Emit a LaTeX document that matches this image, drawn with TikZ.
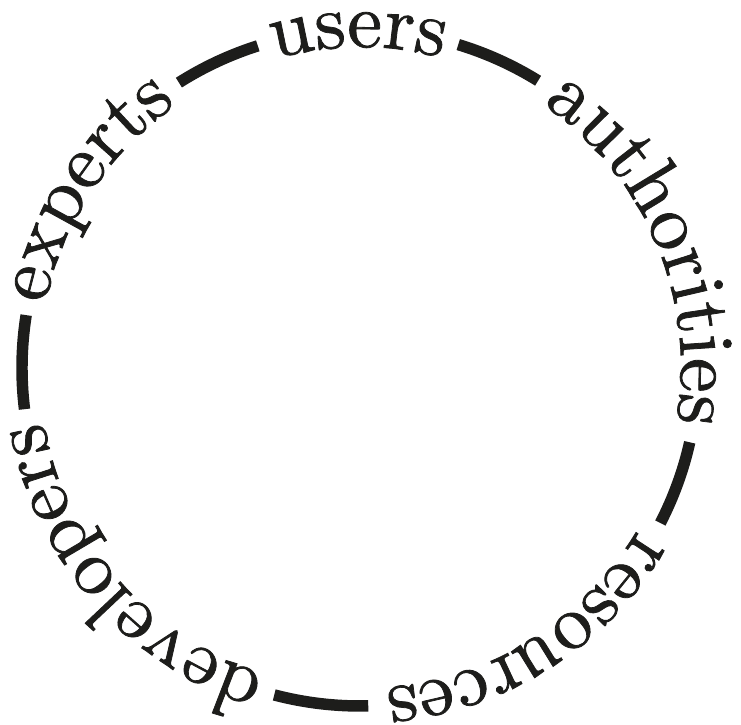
\documentclass[tikz,border=0pt]{standalone}
\usepackage{fontspec}
\newfontfamily\wordfont[FakeBold=1]{lmroman10-regular.otf}
\usetikzlibrary{decorations.text}
\definecolor{ink}{RGB}{29,29,27}
\begin{document}
\begin{tikzpicture}[x=0.75pt,y=0.75pt,
  seg/.style={draw=ink, line width=8.6pt},
  word/.style={decorate, decoration={text along path, text align=center,
     text color=ink, text={|\fontsize{58.5}{60}\wordfont|#1}}}]
\useasboundingbox (-360,-356) rectangle (381,368);
\coordinate (c) at (0,0);
% line segments of the ring
\draw[seg] (c) ++(107.6:338) arc[start angle=107.6, end angle=122.4, radius=338];
\draw[seg] (c) ++(58.2:338) arc[start angle=58.2, end angle=73.1, radius=338];
\draw[seg] (c) ++(-27.3:338) arc[start angle=-27.3, end angle=-12.7, radius=338];
\draw[seg] (c) ++(-104.7:338) arc[start angle=-104.7, end angle=-88.6, radius=338];
\draw[seg] (c) ++(171:338) arc[start angle=171, end angle=187, radius=338];
% words along the ring (clockwise)
\path[word=users] (c) ++(107.6:321) arc[start angle=107.6, end angle=73.1, radius=321];
\path[word=authorities] (c) ++(58.2:321) arc[start angle=58.2, end angle=-12.7, radius=321];
\path[word=resources] (c) ++(-27.3:321) arc[start angle=-27.3, end angle=-88.6, radius=321];
\path[word=developers] (c) ++(-104.7:321) arc[start angle=-104.7, end angle=-173, radius=321];
\path[word=experts] (c) ++(171:321) arc[start angle=171, end angle=122.4, radius=321];
\end{tikzpicture}
\end{document}
